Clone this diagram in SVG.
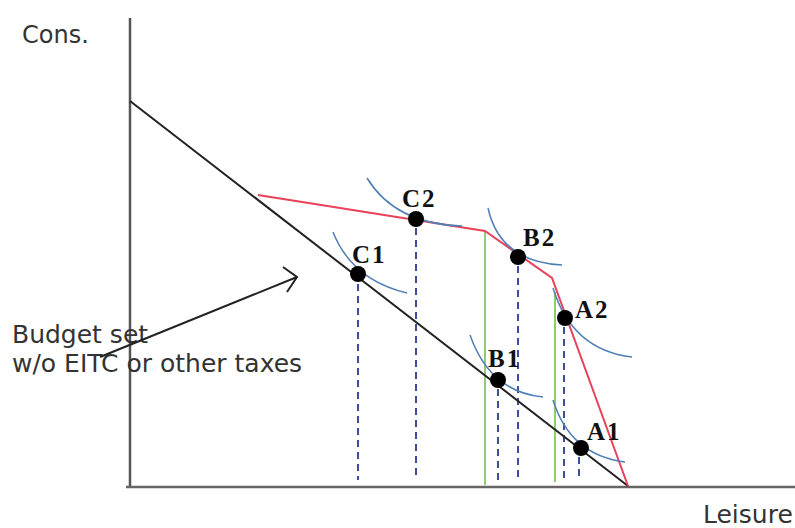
<svg xmlns="http://www.w3.org/2000/svg" width="795" height="528" viewBox="0 0 795 528">
<style>
.lbl{font-family:"DejaVu Sans",Verdana,sans-serif;font-size:25px;fill:#333}
.pt{font-family:"Liberation Serif","Times New Roman",serif;font-weight:bold;font-size:25px;fill:#111;letter-spacing:2px}
.dash{stroke:#3b4f9a;stroke-width:2;stroke-dasharray:7 5;fill:none}
.ic{stroke:#4f7fb5;stroke-width:1.5;fill:none}
.grn{stroke:#8fce6e;stroke-width:2;fill:none}
</style>
<rect width="795" height="528" fill="#fff"/>
<g id="axes">
<line x1="130" y1="18" x2="130" y2="488" stroke="#555" stroke-width="2.5"/>
<line x1="126" y1="487" x2="795" y2="487" stroke="#666" stroke-width="2.5"/>
</g>
<g id="labels">
<text class="lbl" x="22" y="43" style="font-size:24px">Cons.</text>
<text class="lbl" x="703" y="523">Leisure</text>
<text class="lbl" x="12" y="343">Budget set</text>
<text class="lbl" x="12" y="372">w/o EITC or other taxes</text>
</g>
<g id="connectors">
<g id="dashes">
<line class="dash" x1="358" y1="284" x2="358" y2="480"/>
<line class="dash" x1="416" y1="228" x2="416" y2="480"/>
<line class="dash" x1="498" y1="389" x2="498" y2="480"/>
<line class="dash" x1="518" y1="266" x2="518" y2="480"/>
<line class="dash" x1="564" y1="327" x2="564" y2="480"/>
<line class="dash" x1="579" y1="457" x2="579" y2="480"/>
</g>
<line class="grn" x1="485" y1="232" x2="485" y2="485"/>
<line class="grn" x1="555" y1="292" x2="555" y2="482"/>
<line id="budget" x1="130" y1="101" x2="628" y2="486" stroke="#222" stroke-width="2"/>
<polyline id="eitc" points="258,195 485,231 552,278 628,486" fill="none" stroke="#e8425a" stroke-width="2"/>
<g id="curves">
<path class="ic" d="M333,232 Q352,280 407,293"/>
<path class="ic" d="M367,178 Q395,224 462,226"/>
<path class="ic" d="M488,208 Q500,262 562,265"/>
<path class="ic" d="M553,288 Q572,350 632,357"/>
<path class="ic" d="M470,335 Q490,392 543,397"/>
<path class="ic" d="M553,400 Q570,455 625,462"/>
</g>
<g id="arrow" stroke="#222" stroke-width="2" fill="none">
<line x1="100" y1="357" x2="297" y2="277"/>
<polyline points="283,267 297,277 287,292"/>
</g>
</g>
<g id="C1"><circle cx="358" cy="274" r="8" fill="#000"/><text class="pt" x="352" y="263">C1</text></g>
<g id="C2"><circle cx="416" cy="219" r="8" fill="#000"/><text class="pt" x="402" y="207">C2</text></g>
<g id="B2"><circle cx="518" cy="257" r="8" fill="#000"/><text class="pt" x="523" y="246">B2</text></g>
<g id="A2"><circle cx="565" cy="318" r="8" fill="#000"/><text class="pt" x="575" y="318">A2</text></g>
<g id="B1"><circle cx="498" cy="380" r="8" fill="#000"/><text class="pt" x="488" y="367">B1</text></g>
<g id="A1"><circle cx="581" cy="448" r="8" fill="#000"/><text class="pt" x="587" y="440">A1</text></g>
</svg>
